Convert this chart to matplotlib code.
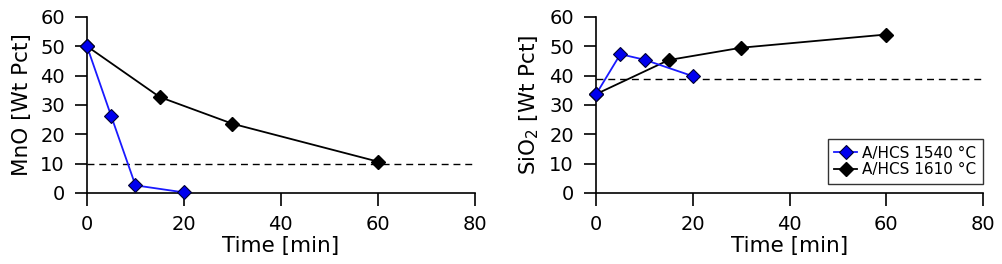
import matplotlib.pyplot as plt

time_1540 = [0, 5, 10, 20]
time_1610 = [0, 15, 30, 60]
mno_1540 = [50, 26.2, 2.6, 0.2]
mno_1610 = [50, 32.7, 23.6, 10.7]
sio2_1540 = [33.7, 47.3, 45.4, 39.8]
sio2_1610 = [33.7, 45.3, 49.5, 54.0]
mno_limit = 10
sio2_limit = 39

plt.rcParams['font.family'] = 'DejaVu Sans'
plt.rcParams['font.size'] = 14

fig = plt.figure(figsize=(10.02, 2.64), dpi=100)
ax1 = fig.add_axes([0.0868, 0.269, 0.387, 0.667])
ax2 = fig.add_axes([0.595, 0.269, 0.386, 0.667])

panels = [
    (ax1, mno_1540, mno_1610, mno_limit, 'MnO [Wt Pct]'),
    (ax2, sio2_1540, sio2_1610, sio2_limit, 'SiO$_2$ [Wt Pct]'),
]

for ax, blue, black, limit, ylabel in panels:
    ax.axhline(limit, color='black', ls=(0, (5, 3.5)), lw=1.0, zorder=1)
    ax.plot(time_1540, blue, color='#1a1aff', lw=1.3, marker='D', ms=7.5,
            mfc='#0000ee', mec='#000033', mew=0.8, label='A/HCS 1540 °C', zorder=3,
            clip_on=False)
    ax.plot(time_1610, black, color='black', lw=1.3, marker='D', ms=7.5,
            mfc='black', mec='black', label='A/HCS 1610 °C', zorder=2, clip_on=False)
    ax.set_xlim(0, 80)
    ax.set_ylim(0, 60)
    ax.set_xticks([0, 20, 40, 60, 80])
    ax.set_yticks([0, 10, 20, 30, 40, 50, 60])
    ax.spines['top'].set_visible(False)
    ax.spines['right'].set_visible(False)
    for s in ('left', 'bottom'):
        ax.spines[s].set_linewidth(1.2)
    ax.tick_params(direction='out', length=9, width=1.2, labelsize=14)
    ax.tick_params(axis='x', pad=7)
    ax.tick_params(axis='y', pad=7)
    ax.set_xlabel('Time [min]', fontsize=15.5, labelpad=1)
    ax.set_ylabel(ylabel, fontsize=15.5, labelpad=6)

leg = ax2.legend(loc='lower right', fontsize=11, frameon=True, fancybox=False,
                 edgecolor='black', handlelength=1.5, handletextpad=0.3,
                 borderpad=0.45, labelspacing=0.1, borderaxespad=0,
                 bbox_to_anchor=(1.0, 0.05))
leg.get_frame().set_linewidth(1.0)

plt.savefig('out.png', dpi=100)
plt.close()
